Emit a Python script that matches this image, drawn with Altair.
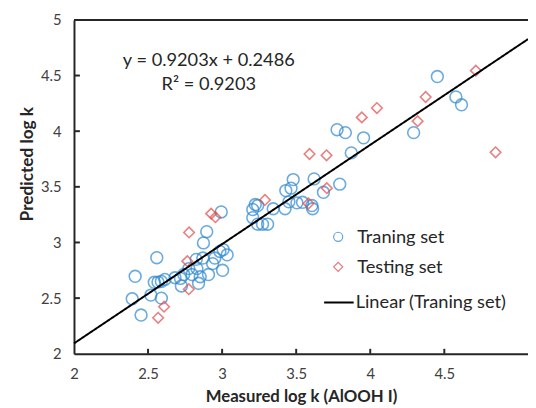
import altair as alt
import pandas as pd

# ---- data ----
train_x = [2.393, 2.413, 2.453, 2.519, 2.559, 2.542, 2.567, 2.590, 2.614, 2.590,
           2.682, 2.719, 2.725, 2.741, 2.775, 2.797, 2.825, 2.830, 2.841, 2.852,
           2.870, 2.874, 2.896, 2.908, 2.936, 2.951, 2.985, 3.007, 3.003, 3.034,
           2.994, 3.207, 3.207, 3.224, 3.240, 3.240, 3.273, 3.307, 3.345, 3.430,
           3.465, 3.480, 3.425, 3.451, 3.505, 3.543, 3.606, 3.611, 3.621, 3.684,
           3.794, 3.776, 3.832, 3.955, 3.872, 4.293, 4.453, 4.578, 4.616]
train_y = [2.494, 2.696, 2.348, 2.527, 2.863, 2.642, 2.644, 2.650, 2.668, 2.500,
           2.683, 2.677, 2.609, 2.712, 2.765, 2.712, 2.848, 2.765, 2.633, 2.692,
           2.860, 2.996, 3.097, 2.712, 2.810, 2.860, 2.919, 2.936, 2.750, 2.889,
           3.274, 3.296, 3.223, 3.341, 3.332, 3.164, 3.164, 3.164, 3.303, 3.466,
           3.488, 3.565, 3.303, 3.365, 3.356, 3.361, 3.332, 3.303, 3.571, 3.451,
           3.524, 4.013, 3.987, 3.940, 3.805, 3.987, 4.491, 4.308, 4.237]

test_x = [2.568, 2.608, 2.765, 2.775, 2.777, 2.926, 2.955, 3.289, 3.590, 3.705,
          3.707, 3.583, 3.943, 4.045, 4.320, 4.374, 4.713, 4.846]
test_y = [2.323, 2.423, 2.832, 2.580, 3.090, 3.259, 3.227, 3.382, 3.795, 3.783,
          3.488, 3.350, 4.124, 4.208, 4.090, 4.307, 4.544, 3.810]

line_x = [2.0, 5.065]
line_y = [2.093, 4.827]

sets = ["Traning set", "Testing set"]
line_name = "Linear (Traning set)"
eq_text = ["y = 0.9203x + 0.2486", "R² = 0.9203"]
eq_x = [2.91, 2.91]
eq_y = [4.64, 4.42]

x_ticks = [2, 2.5, 3, 3.5, 4, 4.5]
y_ticks = [2, 2.5, 3, 3.5, 4, 4.5, 5]

# ---- layout / style ----
W, H = 461, 339
BLUE = "#2e88cf"
RED = "#e24a4a"
FONT = "Lato"
LEG_FS = 18.5

train = pd.DataFrame({"x": train_x, "y": train_y, "set": sets[0]})
test = pd.DataFrame({"x": test_x, "y": test_y, "set": sets[1]})
line = pd.DataFrame({"x": line_x, "y": line_y, "name": line_name})
eq = pd.DataFrame({"x": eq_x, "y": eq_y, "t": eq_text})
xt = pd.DataFrame({"v": x_ticks[1:]})
yt = pd.DataFrame({"v": y_ticks[1:-1]})

xs = alt.Scale(domain=[2, 5.065], nice=False, zero=False)
ys = alt.Scale(domain=[2, 5], nice=False, zero=False)

xaxis = alt.Axis(values=x_ticks, format="~g", title="Measured log k (AlOOH I)",
                 grid=False, ticks=False, tickSize=0, labelPadding=13,
                 labelFontSize=15, labelColor="#404040", labelFont=FONT,
                 labelFlush=False, labelOverlap=False,
                 titleFont=FONT, titleFontSize=17, titleFontWeight="bold",
                 titleColor="#262626", titleBaseline="alphabetic", titleY=48,
                 domainColor="#262626", domainWidth=2)
yaxis = alt.Axis(values=y_ticks, format="~g", title="Predicted log k",
                 grid=False, ticks=False, tickSize=0, labelPadding=13,
                 labelFontSize=15, labelColor="#404040", labelFont=FONT,
                 labelFlush=False, labelOverlap=False,
                 titleFont=FONT, titleFontSize=17.5, titleFontWeight="bold",
                 titleColor="#262626", titleX=-47, titleY=146,
                 titleAlign="center", titleBaseline="middle",
                 domainColor="#262626", domainWidth=2)

pt_legend = alt.Legend(title=None, orient="none", legendX=259, legendY=211,
                       labelFontSize=LEG_FS, labelFont=FONT, labelColor="#262626",
                       symbolSize=85, symbolStrokeWidth=1.2, symbolOpacity=0.75,
                       labelOffset=10, rowPadding=11.5, padding=0)
color = alt.Color("set:N", scale=alt.Scale(domain=sets, range=[BLUE, RED]), legend=pt_legend)
shape = alt.Shape("set:N", scale=alt.Scale(domain=sets, range=["circle", "diamond"]), legend=pt_legend)

circles = alt.Chart(train).mark_point(filled=False, size=144, strokeWidth=1.6).encode(
    x=alt.X("x:Q", scale=xs, axis=xaxis),
    y=alt.Y("y:Q", scale=ys, axis=yaxis),
    color=color, shape=shape)

diamonds = alt.Chart(test).mark_point(filled=False, size=115, strokeWidth=1.6).encode(
    x=alt.X("x:Q", scale=xs, axis=xaxis),
    y=alt.Y("y:Q", scale=ys, axis=yaxis),
    color=color, shape=shape)

trend = alt.Chart(line).mark_line(color="black", strokeWidth=2).encode(
    x=alt.X("x:Q", scale=xs),
    y=alt.Y("y:Q", scale=ys),
    strokeDash=alt.StrokeDash("name:N", scale=alt.Scale(range=[[1, 0]]),
                              legend=alt.Legend(title=None, orient="none",
                                                legendX=253, legendY=271,
                                                labelFontSize=LEG_FS, labelFont=FONT,
                                                labelColor="#262626",
                                                symbolType="stroke", symbolSize=900,
                                                symbolStrokeWidth=2,
                                                symbolStrokeColor="black",
                                                labelOffset=1, padding=0)))

texts = alt.Chart(eq).mark_text(fontSize=18.5, font=FONT, color="#262626",
                                align="center", baseline="middle").encode(
    x=alt.X("x:Q", scale=xs), y=alt.Y("y:Q", scale=ys), text="t:N")

xtick_marks = alt.Chart(xt).mark_rule(color="#262626", strokeWidth=2).encode(
    x=alt.X("v:Q", scale=xs), y=alt.value(H), y2=alt.value(H - 5))
ytick_marks = alt.Chart(yt).mark_rule(color="#262626", strokeWidth=2).encode(
    y=alt.Y("v:Q", scale=ys), x=alt.value(0), x2=alt.value(6))
top_border = alt.Chart(pd.DataFrame({"v": [0]})).mark_rule(color="#262626", strokeWidth=2).encode(
    x=alt.value(0), x2=alt.value(W), y=alt.value(0))

chart = alt.layer(top_border, xtick_marks, ytick_marks, circles, diamonds, trend, texts).properties(
    width=W, height=H,
    autosize=alt.AutoSizeParams(type="none"),
    padding={"left": 67, "top": 9, "right": 0, "bottom": 52},
).configure_view(stroke=None).configure(font=FONT)

chart.save("out.html", embed_options={"renderer": "svg", "actions": False})
